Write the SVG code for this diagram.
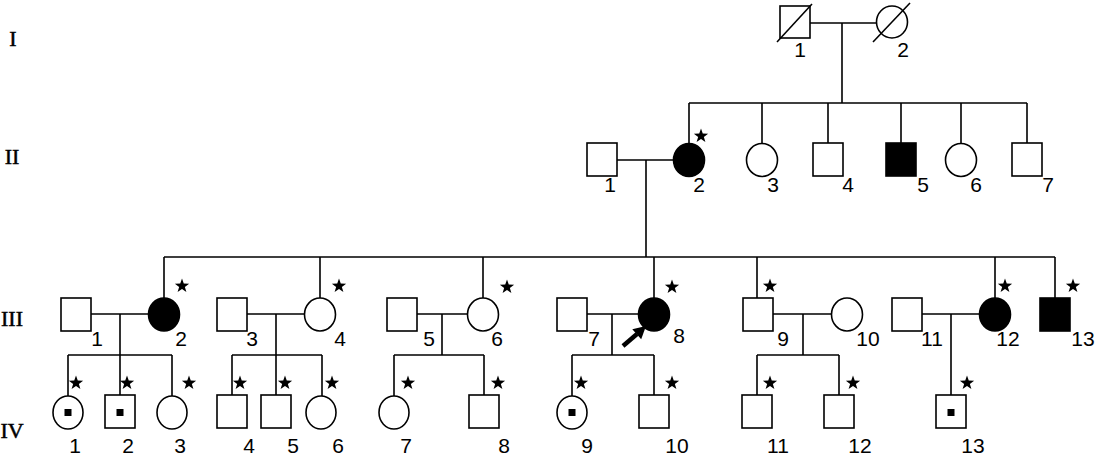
<svg xmlns="http://www.w3.org/2000/svg" xmlns:xlink="http://www.w3.org/1999/xlink" width="1103" height="455" viewBox="0 0 1103 455">
<style>
.s{fill:#fff;stroke:#000;stroke-width:1.6}
.a{fill:#000;stroke:#000;stroke-width:1.6}
.l{fill:none;stroke:#000;stroke-width:1.6}
.n{font-family:"Liberation Sans",Arial,sans-serif;font-size:21px;fill:#000;text-anchor:middle}
.g{font-family:"Liberation Serif","Times New Roman",serif;font-size:22px;fill:#000;stroke:#000;stroke-width:0.5;text-anchor:middle}
</style>
<defs>
<path id="star" d="M0,-7.5 L1.76,-2.43 L7.13,-2.32 L2.85,0.93 L4.41,6.07 L0,3 L-4.41,6.07 L-2.85,0.93 L-7.13,-2.32 L-1.76,-2.43 Z" fill="#000"/>
</defs>
<rect width="1103" height="455" fill="#fff"/>
<g id="generations">
<text class="g" x="13" y="46">I</text>
<text class="g" x="12" y="164">II</text>
<text class="g" x="12" y="326">III</text>
<text class="g" x="12" y="438">IV</text>
</g>
<g id="connectors">
<path class="l" d="M810,23H877M842,23V103M689,103H1027M689,103V143M762,103V143M828,103V143M901,103V143M961,103V143M1027,103V143"/>
<path class="l" d="M617,160H673M646,160V257M164,257H1055M164,257V298M320,257V298M483,257V298M654,257V298M757,257V298M995,257V298M1055,257V298"/>
<path class="l" d="M91,314H149M120,314V395M68,355H172M68,355V396M172,355V396"/>
<path class="l" d="M247,314H305M276,314V395M232,355H322M232,355V395M322,355V396"/>
<path class="l" d="M417,314H468M442,314V355M394,355H484M394,355V396M484,355V395"/>
<path class="l" d="M587,314H639M612,314V355M572,355H654M572,355V396M654,355V395"/>
<path class="l" d="M773,314H832M803,314V355M757,355H839M757,355V395M839,355V395"/>
<path class="l" d="M922,314H980M951,314V395"/>
</g>
<g id="I-1"><rect class="s" x="780" y="6" width="30" height="32"/><line class="l" x1="777" y1="42" x2="812" y2="4"/><text class="n" x="800" y="57">1</text></g>
<g id="I-2"><ellipse class="s" cx="892" cy="22" rx="15.5" ry="16"/><line class="l" x1="873" y1="42" x2="910" y2="3"/><text class="n" x="903" y="57">2</text></g>
<g id="II-1"><rect class="s" x="587" y="143" width="30" height="33"/><text class="n" x="610" y="192">1</text></g>
<g id="II-2"><ellipse class="a" cx="689" cy="160" rx="15.5" ry="16.5"/><use xlink:href="#star" x="701" y="136"/><text class="n" x="699" y="192">2</text></g>
<g id="II-3"><ellipse class="s" cx="762" cy="160" rx="15.5" ry="16.5"/><text class="n" x="773" y="192">3</text></g>
<g id="II-4"><rect class="s" x="813" y="143" width="30" height="33"/><text class="n" x="848" y="192">4</text></g>
<g id="II-5"><rect class="a" x="886" y="143" width="30" height="33"/><text class="n" x="923" y="192">5</text></g>
<g id="II-6"><ellipse class="s" cx="961" cy="160" rx="15.5" ry="16.5"/><text class="n" x="976" y="192">6</text></g>
<g id="II-7"><rect class="s" x="1012" y="143" width="30" height="33"/><text class="n" x="1048" y="192">7</text></g>
<g id="III-1"><rect class="s" x="61" y="298" width="30" height="33"/><text class="n" x="97" y="346">1</text></g>
<g id="III-2"><ellipse class="a" cx="164" cy="314.5" rx="15.5" ry="16.5"/><use xlink:href="#star" x="182" y="286"/><text class="n" x="181" y="346">2</text></g>
<g id="III-3"><rect class="s" x="217" y="298" width="30" height="33"/><text class="n" x="252" y="346">3</text></g>
<g id="III-4"><ellipse class="s" cx="320" cy="314.5" rx="15.5" ry="16.5"/><use xlink:href="#star" x="339" y="286"/><text class="n" x="340" y="346">4</text></g>
<g id="III-5"><rect class="s" x="387" y="298" width="30" height="33"/><text class="n" x="429" y="346">5</text></g>
<g id="III-6"><ellipse class="s" cx="483" cy="314.5" rx="15.5" ry="16.5"/><use xlink:href="#star" x="507" y="287"/><text class="n" x="497" y="346">6</text></g>
<g id="III-7"><rect class="s" x="557" y="298" width="30" height="33"/><text class="n" x="594" y="346">7</text></g>
<g id="III-8"><ellipse class="a" cx="654" cy="314.5" rx="15.5" ry="16.5"/><use xlink:href="#star" x="672" y="287"/><text class="n" x="679" y="343">8</text>
<line x1="623" y1="346" x2="637" y2="334" stroke="#000" stroke-width="4.5"/><polygon points="646,326 641.2,339.2 632.3,329.2" fill="#000"/></g>
<g id="III-9"><rect class="s" x="743" y="298" width="30" height="33"/><use xlink:href="#star" x="770" y="286"/><text class="n" x="783" y="346">9</text></g>
<g id="III-10"><ellipse class="s" cx="847" cy="314.5" rx="15.5" ry="16.5"/><text class="n" x="868" y="346">10</text></g>
<g id="III-11"><rect class="s" x="892" y="298" width="30" height="33"/><text class="n" x="932" y="346">11</text></g>
<g id="III-12"><ellipse class="a" cx="995" cy="314.5" rx="15.5" ry="16.5"/><use xlink:href="#star" x="1005" y="286"/><text class="n" x="1008" y="346">12</text></g>
<g id="III-13"><rect class="a" x="1040" y="298" width="30" height="33"/><use xlink:href="#star" x="1073" y="286"/><text class="n" x="1083" y="346">13</text></g>
<g id="IV-1"><ellipse class="s" cx="68" cy="412.5" rx="15" ry="16.5"/><rect x="64.5" y="409" width="7" height="7" fill="#000"/><use xlink:href="#star" x="76" y="383"/><text class="n" x="75" y="453">1</text></g>
<g id="IV-2"><rect class="s" x="105" y="395" width="30" height="33"/><rect x="116.5" y="409" width="7" height="7" fill="#000"/><use xlink:href="#star" x="127" y="383"/><text class="n" x="128" y="453">2</text></g>
<g id="IV-3"><ellipse class="s" cx="172" cy="412.5" rx="15" ry="16.5"/><use xlink:href="#star" x="189" y="383"/><text class="n" x="180" y="453">3</text></g>
<g id="IV-4"><rect class="s" x="217" y="395" width="30" height="33"/><use xlink:href="#star" x="240" y="383"/><text class="n" x="249" y="453">4</text></g>
<g id="IV-5"><rect class="s" x="261" y="395" width="30" height="33"/><use xlink:href="#star" x="285" y="383"/><text class="n" x="293" y="453">5</text></g>
<g id="IV-6"><ellipse class="s" cx="321" cy="412.5" rx="15" ry="16.5"/><use xlink:href="#star" x="332" y="383"/><text class="n" x="338" y="453">6</text></g>
<g id="IV-7"><ellipse class="s" cx="394" cy="412.5" rx="15" ry="16.5"/><use xlink:href="#star" x="408" y="383"/><text class="n" x="406" y="453">7</text></g>
<g id="IV-8"><rect class="s" x="469" y="395" width="30" height="33"/><use xlink:href="#star" x="498" y="383"/><text class="n" x="504" y="453">8</text></g>
<g id="IV-9"><ellipse class="s" cx="572" cy="412.5" rx="15" ry="16.5"/><rect x="568.5" y="409" width="7" height="7" fill="#000"/><use xlink:href="#star" x="581" y="383"/><text class="n" x="587" y="453">9</text></g>
<g id="IV-10"><rect class="s" x="639" y="395" width="30" height="33"/><use xlink:href="#star" x="672" y="383"/><text class="n" x="677" y="453">10</text></g>
<g id="IV-11"><rect class="s" x="742" y="395" width="30" height="33"/><use xlink:href="#star" x="770" y="383"/><text class="n" x="778" y="453">11</text></g>
<g id="IV-12"><rect class="s" x="824" y="395" width="30" height="33"/><use xlink:href="#star" x="853" y="383"/><text class="n" x="860" y="453">12</text></g>
<g id="IV-13"><rect class="s" x="936" y="395" width="30" height="33"/><rect x="947.5" y="409" width="7" height="7" fill="#000"/><use xlink:href="#star" x="967" y="383"/><text class="n" x="973" y="453">13</text></g>
</svg>
